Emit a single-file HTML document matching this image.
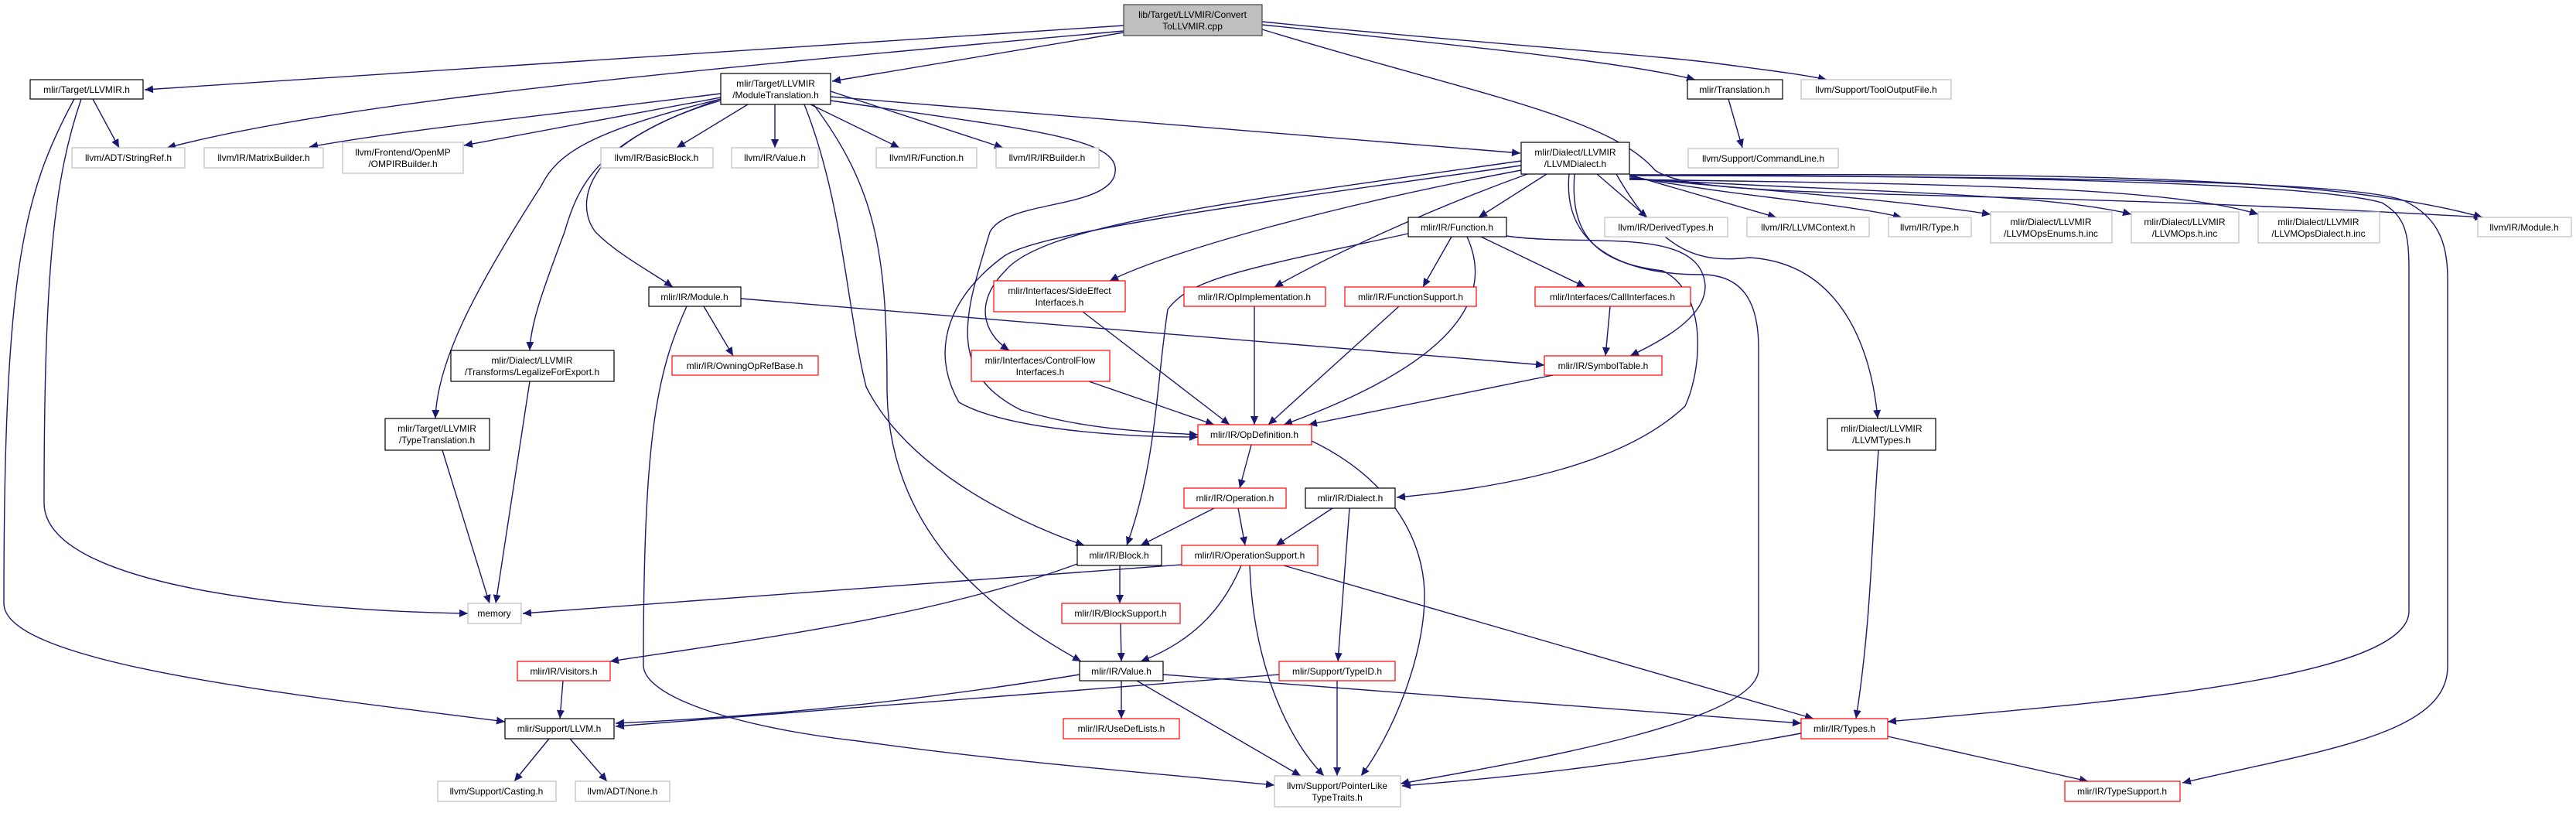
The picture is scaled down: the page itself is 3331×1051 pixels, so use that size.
<!DOCTYPE html>
<html><head><meta charset="utf-8"><style>
html,body{margin:0;padding:0;background:#fff;}
svg{display:block;}
text{font-family:"Liberation Sans",Arial,sans-serif;font-size:12px;fill:#000;text-anchor:middle;}
.e{fill:none;stroke:#191970;stroke-width:1.4;marker-end:url(#a);}
.b{fill:#fff;stroke:#000;stroke-width:1.2;}
.g{fill:#fff;stroke:#bfbfbf;stroke-width:1.2;}
.r{fill:#fff;stroke:#ff0000;stroke-width:1.2;}
</style></head><body>
<svg width="3331" height="1051" viewBox="0 0 3331 1051" xmlns="http://www.w3.org/2000/svg">
<defs><marker id="a" markerUnits="userSpaceOnUse" markerWidth="12" markerHeight="10" refX="11" refY="5" orient="auto"><path d="M0,0 L11,5 L0,10 z" fill="#191970"/></marker></defs>
<g>
<path class="e" d="M1453,33 L187,116"/>
<path class="e" d="M1453,40 C900,90 450,130 216,191"/>
<path class="e" d="M1453,42 L1076,105"/>
<path class="e" d="M1632,32 C1900,60 2100,80 2192,103"/>
<path class="e" d="M1632,28 C1900,55 2150,72 2220,82 C2280,90 2330,96 2362,103"/>
<path class="e" d="M1632,38 C1900,120 2080,150 2140,220 C2200,262 2500,240 3211,281"/>
<path class="e" d="M120,128 L154,191"/>
<path class="e" d="M105,128 C70,230 57,350 57,650 C57,760 400,790 605,793"/>
<path class="e" d="M96,128 C30,250 5,350 5,780 C5,860 400,900 653,933"/>
<path class="e" d="M932,121 C700,150 520,168 400,190"/>
<path class="e" d="M932,126 L600,188"/>
<path class="e" d="M967,135 L875,191"/>
<path class="e" d="M1002,135 L1002,191"/>
<path class="e" d="M1048,135 L1163,191"/>
<path class="e" d="M1074,118 L1297,191"/>
<path class="e" d="M1074,125 L1966,198"/>
<path class="e" d="M932,128 C760,170 720,200 700,240 C610,380 565,470 563,541"/>
<path class="e" d="M932,128 C780,180 750,230 730,300 C700,380 686,420 685,453"/>
<path class="e" d="M932,130 C760,180 740,260 770,300 C800,330 840,350 870,371"/>
<path class="e" d="M1040,135 C1090,260 1095,400 1120,500 C1170,600 1300,670 1402,705"/>
<path class="e" d="M1052,135 C1130,240 1147,320 1147,500 C1147,700 1300,800 1398,855"/>
<path class="e" d="M1074,130 C1350,170 1460,180 1440,230 C1420,270 1300,260 1280,300 C1250,400 1220,480 1320,530 C1400,555 1480,558 1549,562"/>
<path class="e" d="M910,396 L948,460"/>
<path class="e" d="M958,386 L1997,472"/>
<path class="e" d="M888,396 C850,480 832,560 832,860 C832,900 950,940 1110,958 C1300,985 1500,1000 1648,1015"/>
<path class="e" d="M685,493 L641,780"/>
<path class="e" d="M572,582 L633,780"/>
<path class="e" d="M2000,225 L1912,281"/>
<path class="e" d="M2065,225 L2130,281"/>
<path class="e" d="M2107,226 L2297,281"/>
<path class="e" d="M2107,228 C2250,255 2380,262 2459,281"/>
<path class="e" d="M2107,230 C2300,248 2450,258 2574,277"/>
<path class="e" d="M2107,231 C2400,248 2650,250 2756,277"/>
<path class="e" d="M2107,232 C2500,238 2800,240 2920,277"/>
<path class="e" d="M2107,226 C2600,225 3000,222 3210,281"/>
<path class="e" d="M1967,220 C1700,270 1500,330 1435,363"/>
<path class="e" d="M1967,208 C1600,260 1350,290 1300,350 C1260,390 1270,430 1305,453"/>
<path class="e" d="M1975,225 C1850,270 1720,330 1648,371"/>
<path class="e" d="M1967,214 C1600,265 1350,300 1300,330 C1230,380 1200,450 1240,520 C1300,555 1450,565 1549,565"/>
<path class="e" d="M2036,225 C2030,300 2060,340 2150,350 C2210,380 2200,480 2179,525 C2100,600 1950,630 1806,643"/>
<path class="e" d="M2090,225 C2150,330 2200,340 2262,333 C2380,340 2420,450 2428,541"/>
<path class="e" d="M2107,226 C2700,228 3000,240 3080,262 C3110,280 3115,300 3115,350 L3115,790 C3115,880 2700,910 2441,933"/>
<path class="e" d="M2107,227 C2700,228 3050,235 3110,260 C3150,280 3165,310 3165,360 L3165,862 C3165,950 3000,970 2822,1012"/>
<path class="e" d="M2029,225 C2020,320 2100,355 2200,355 C2260,355 2274,400 2274,450 L2274,865 C2274,930 2000,980 1811,1013"/>
<path class="e" d="M1877,306 L1840,371"/>
<path class="e" d="M1915,306 L2050,371"/>
<path class="e" d="M1948,305 C2050,320 2200,290 2205,370 C2205,410 2150,440 2108,460"/>
<path class="e" d="M1897,306 C1940,400 1850,480 1660,549"/>
<path class="e" d="M1821,302 C1600,350 1540,360 1510,400 C1495,500 1495,600 1457,705"/>
<path class="e" d="M1400,403 L1590,549"/>
<path class="e" d="M1408,493 L1570,549"/>
<path class="e" d="M1622,396 L1622,549"/>
<path class="e" d="M1809,396 L1640,549"/>
<path class="e" d="M2082,396 L2076,460"/>
<path class="e" d="M2008,485 L1692,549"/>
<path class="e" d="M1618,575 L1603,631"/>
<path class="e" d="M1696,570 C1800,620 1842,700 1842,770 C1842,850 1800,950 1760,1003"/>
<path class="e" d="M1570,657 L1475,705"/>
<path class="e" d="M1601,657 L1610,705"/>
<path class="e" d="M1723,657 L1650,705"/>
<path class="e" d="M1745,657 L1730,855"/>
<path class="e" d="M1448,731 L1448,780"/>
<path class="e" d="M1393,729 C1200,800 950,830 789,855"/>
<path class="e" d="M1528,730 L676,793"/>
<path class="e" d="M1605,731 C1580,790 1540,830 1475,855"/>
<path class="e" d="M1616,731 C1620,850 1660,950 1712,1003"/>
<path class="e" d="M1660,731 L2345,929"/>
<path class="e" d="M1449,806 L1450,855"/>
<path class="e" d="M1396,872 C1100,920 900,930 796,935"/>
<path class="e" d="M1450,880 L1450,929"/>
<path class="e" d="M1470,880 L1682,1003"/>
<path class="e" d="M1504,872 L2329,935"/>
<path class="e" d="M1654,872 L796,939"/>
<path class="e" d="M1729,880 L1729,1003"/>
<path class="e" d="M728,880 L724,929"/>
<path class="e" d="M710,955 L665,1010"/>
<path class="e" d="M737,955 L785,1010"/>
<path class="e" d="M2329,948 C2100,990 1950,1005 1813,1016"/>
<path class="e" d="M2441,952 L2700,1010"/>
<path class="e" d="M2429,582 C2420,700 2420,800 2400,929"/>
<path class="e" d="M2235,128 L2253,191"/>
</g>
<g>
<rect x="1453" y="6" width="179" height="40" fill="#bfbfbf" stroke="#404040" stroke-width="1.2"/><text x="1542" y="23">lib/Target/LLVMIR/Convert</text><text x="1542" y="38">ToLLVMIR.cpp</text>
<rect class="b" x="39" y="103" width="146" height="25"/><text x="112" y="120">mlir/Target/LLVMIR.h</text>
<rect class="b" x="932" y="95" width="142" height="40"/><text x="1003" y="112">mlir/Target/LLVMIR</text><text x="1003" y="127">/ModuleTranslation.h</text>
<rect class="b" x="2182" y="103" width="123" height="25"/><text x="2243" y="120">mlir/Translation.h</text>
<rect class="g" x="2329" y="103" width="194" height="25"/><text x="2426" y="120">llvm/Support/ToolOutputFile.h</text>
<rect class="g" x="93" y="191" width="146" height="26"/><text x="166" y="208">llvm/ADT/StringRef.h</text>
<rect class="g" x="264" y="191" width="154" height="26"/><text x="341" y="208">llvm/IR/MatrixBuilder.h</text>
<rect class="g" x="443" y="184" width="156" height="40"/><text x="521" y="201">llvm/Frontend/OpenMP</text><text x="521" y="216">/OMPIRBuilder.h</text>
<rect class="g" x="777" y="191" width="145" height="26"/><text x="849" y="208">llvm/IR/BasicBlock.h</text>
<rect class="g" x="946" y="191" width="112" height="26"/><text x="1002" y="208">llvm/IR/Value.h</text>
<rect class="g" x="1133" y="191" width="130" height="26"/><text x="1198" y="208">llvm/IR/Function.h</text>
<rect class="g" x="1288" y="191" width="133" height="26"/><text x="1354" y="208">llvm/IR/IRBuilder.h</text>
<rect class="b" x="1967" y="184" width="140" height="41"/><text x="2037" y="201">mlir/Dialect/LLVMIR</text><text x="2037" y="216">/LLVMDialect.h</text>
<rect class="g" x="2183" y="192" width="194" height="25"/><text x="2280" y="209">llvm/Support/CommandLine.h</text>
<rect class="b" x="1821" y="281" width="127" height="25"/><text x="1884" y="298">mlir/IR/Function.h</text>
<rect class="g" x="2075" y="281" width="159" height="25"/><text x="2154" y="298">llvm/IR/DerivedTypes.h</text>
<rect class="g" x="2259" y="281" width="158" height="25"/><text x="2338" y="298">llvm/IR/LLVMContext.h</text>
<rect class="g" x="2442" y="281" width="107" height="25"/><text x="2495" y="298">llvm/IR/Type.h</text>
<rect class="g" x="2574" y="274" width="157" height="40"/><text x="2652" y="291">mlir/Dialect/LLVMIR</text><text x="2652" y="306">/LLVMOpsEnums.h.inc</text>
<rect class="g" x="2756" y="274" width="139" height="40"/><text x="2825" y="291">mlir/Dialect/LLVMIR</text><text x="2825" y="306">/LLVMOps.h.inc</text>
<rect class="g" x="2920" y="274" width="157" height="40"/><text x="2998" y="291">mlir/Dialect/LLVMIR</text><text x="2998" y="306">/LLVMOpsDialect.h.inc</text>
<rect class="g" x="3204" y="281" width="121" height="25"/><text x="3264" y="298">llvm/IR/Module.h</text>
<rect class="b" x="839" y="371" width="119" height="25"/><text x="898" y="388">mlir/IR/Module.h</text>
<rect class="r" x="1285" y="363" width="170" height="40"/><text x="1370" y="380">mlir/Interfaces/SideEffect</text><text x="1370" y="395">Interfaces.h</text>
<rect class="r" x="1531" y="371" width="183" height="25"/><text x="1622" y="388">mlir/IR/OpImplementation.h</text>
<rect class="r" x="1739" y="371" width="170" height="25"/><text x="1824" y="388">mlir/IR/FunctionSupport.h</text>
<rect class="r" x="1985" y="371" width="201" height="25"/><text x="2085" y="388">mlir/Interfaces/CallInterfaces.h</text>
<rect class="b" x="583" y="453" width="211" height="40"/><text x="688" y="470">mlir/Dialect/LLVMIR</text><text x="688" y="485">/Transforms/LegalizeForExport.h</text>
<rect class="r" x="869" y="460" width="189" height="25"/><text x="963" y="477">mlir/IR/OwningOpRefBase.h</text>
<rect class="r" x="1256" y="453" width="179" height="40"/><text x="1345" y="470">mlir/Interfaces/ControlFlow</text><text x="1345" y="485">Interfaces.h</text>
<rect class="r" x="1997" y="460" width="152" height="25"/><text x="2073" y="477">mlir/IR/SymbolTable.h</text>
<rect class="b" x="498" y="541" width="135" height="41"/><text x="565" y="558">mlir/Target/LLVMIR</text><text x="565" y="573">/TypeTranslation.h</text>
<rect class="r" x="1549" y="549" width="147" height="26"/><text x="1622" y="566">mlir/IR/OpDefinition.h</text>
<rect class="b" x="2363" y="541" width="140" height="41"/><text x="2433" y="558">mlir/Dialect/LLVMIR</text><text x="2433" y="573">/LLVMTypes.h</text>
<rect class="r" x="1531" y="631" width="132" height="26"/><text x="1597" y="648">mlir/IR/Operation.h</text>
<rect class="b" x="1688" y="631" width="116" height="26"/><text x="1746" y="648">mlir/IR/Dialect.h</text>
<rect class="b" x="1393" y="705" width="109" height="26"/><text x="1447" y="722">mlir/IR/Block.h</text>
<rect class="r" x="1528" y="705" width="176" height="26"/><text x="1616" y="722">mlir/IR/OperationSupport.h</text>
<rect class="g" x="605" y="780" width="69" height="26"/><text x="639" y="797">memory</text>
<rect class="r" x="1373" y="780" width="153" height="26"/><text x="1449" y="797">mlir/IR/BlockSupport.h</text>
<rect class="r" x="669" y="855" width="120" height="25"/><text x="729" y="872">mlir/IR/Visitors.h</text>
<rect class="b" x="1396" y="855" width="108" height="25"/><text x="1450" y="872">mlir/IR/Value.h</text>
<rect class="r" x="1654" y="855" width="150" height="25"/><text x="1729" y="872">mlir/Support/TypeID.h</text>
<rect class="b" x="653" y="929" width="141" height="26"/><text x="723" y="946">mlir/Support/LLVM.h</text>
<rect class="r" x="1375" y="929" width="150" height="26"/><text x="1450" y="946">mlir/IR/UseDefLists.h</text>
<rect class="r" x="2329" y="929" width="112" height="26"/><text x="2385" y="946">mlir/IR/Types.h</text>
<rect class="g" x="566" y="1010" width="153" height="26"/><text x="642" y="1027">llvm/Support/Casting.h</text>
<rect class="g" x="744" y="1010" width="122" height="26"/><text x="805" y="1027">llvm/ADT/None.h</text>
<rect class="g" x="1648" y="1003" width="163" height="40"/><text x="1729" y="1020">llvm/Support/PointerLike</text><text x="1729" y="1035">TypeTraits.h</text>
<rect class="r" x="2670" y="1010" width="149" height="26"/><text x="2744" y="1027">mlir/IR/TypeSupport.h</text>
</g>
</svg>
</body></html>
